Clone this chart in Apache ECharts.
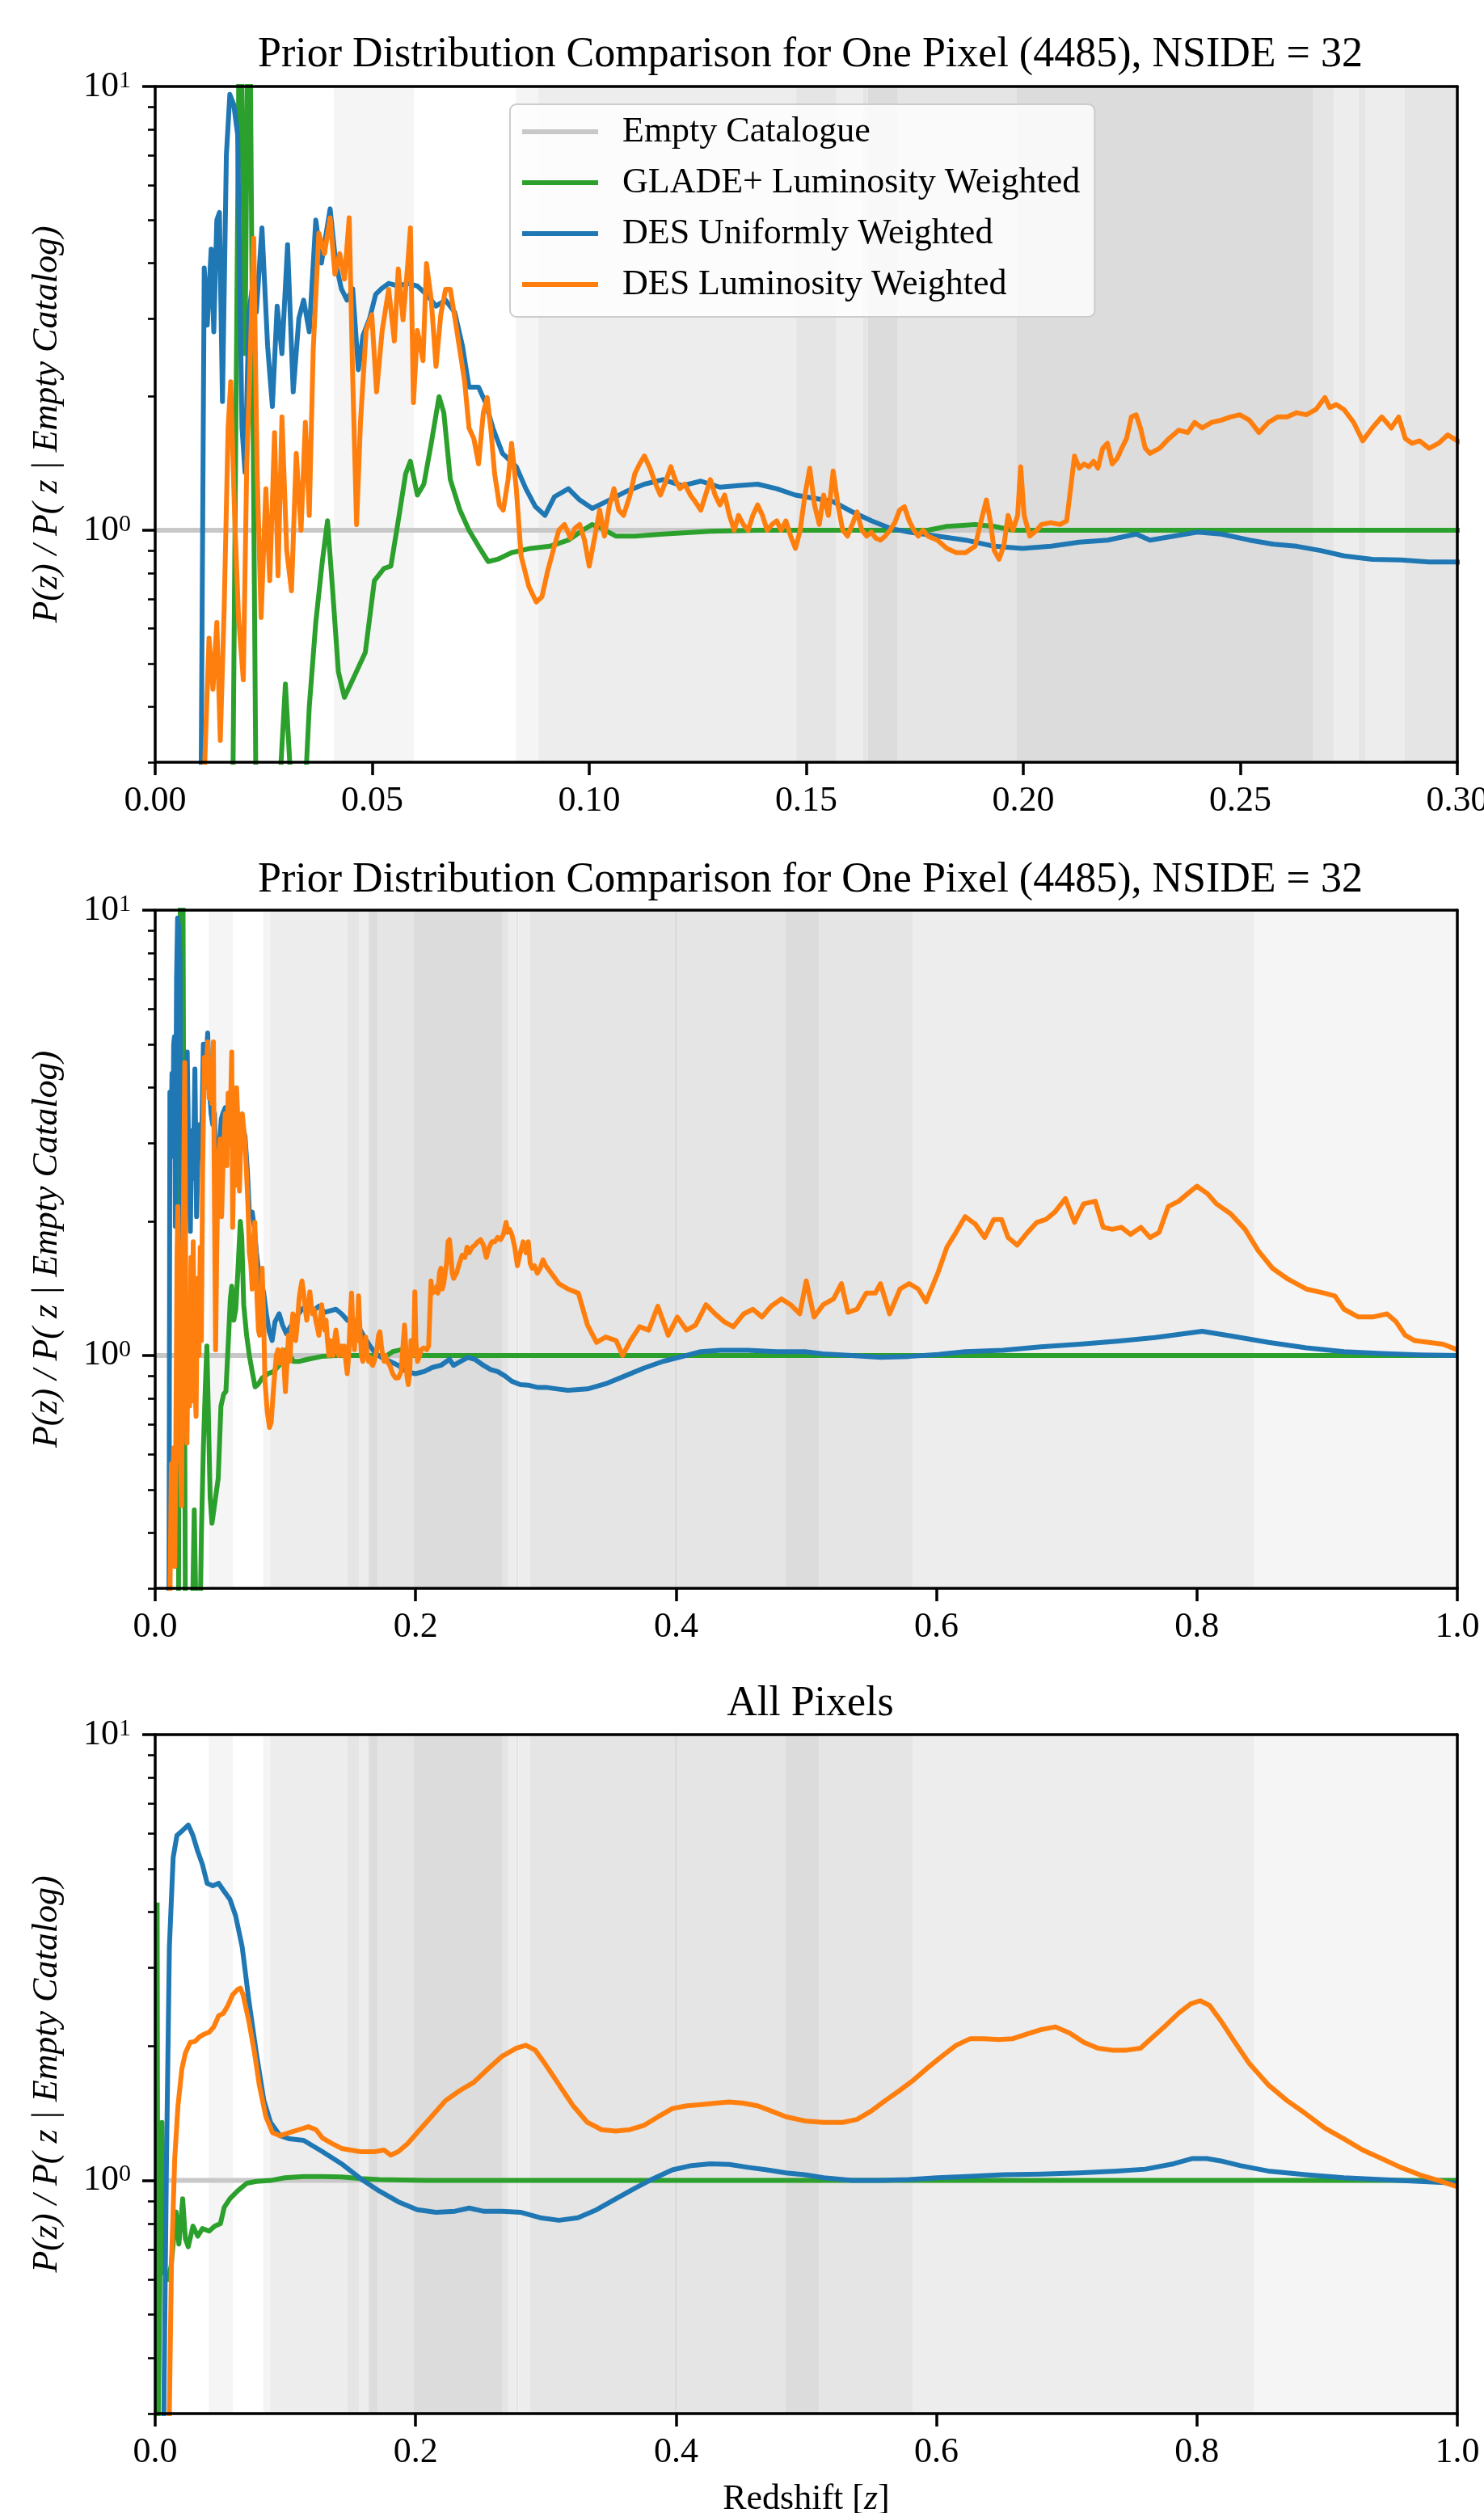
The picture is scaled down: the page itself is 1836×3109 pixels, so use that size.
<!DOCTYPE html>
<html>
<head>
<meta charset="utf-8">
<title>Prior Distribution Comparison</title>
<script src="https://cdn.jsdelivr.net/npm/echarts@6/dist/echarts.min.js"></script>
<style>
  html, body { margin: 0; padding: 0; background: #ffffff; }
  #chart { width: 1836px; height: 3109px; }
</style>
</head>
<body>
<div id="chart"></div>
<script>
// ---- Series names ----
const seriesNames = ['Empty Catalogue', 'GLADE+ Luminosity Weighted', 'DES Uniformly Weighted', 'DES Luminosity Weighted'];
const panelTitles = [
  'Prior Distribution Comparison for One Pixel (4485), NSIDE = 32',
  'Prior Distribution Comparison for One Pixel (4485), NSIDE = 32',
  'All Pixels'
];

// ---- Y tick values (log axis) ----
const yMajorTicks = [1, 10];
const yMinorTicks = [0.3, 0.4, 0.5, 0.6, 0.7, 0.8, 0.9, 2, 3, 4, 5, 6, 7, 8, 9];

// ---- Redshift bands behind the curves: [zStart, zEnd, shade level 1..4] ----
const bandStart = [0.0412, 0.0831, 0.0883, 0.1477, 0.1568, 0.1631, 0.1642, 0.1711, 0.1985, 0.2668, 0.2715, 0.2773, 0.2789, 0.2879, 0.3987, 0.4013, 0.4840, 0.5100, 0.5820, 0.8440];
const bandEnd   = [0.0596, 0.0883, 0.1477, 0.1568, 0.1631, 0.1642, 0.1711, 0.1985, 0.2668, 0.2715, 0.2773, 0.2789, 0.2879, 0.3987, 0.4013, 0.4840, 0.5100, 0.5820, 0.8440, 1.0000];
const bandLevel = [1, 1, 2, 3, 2, 3, 4, 3, 4, 3, 2, 3, 2, 3, 4, 3, 4, 3, 2, 1];

// ---- Reference line ----
const emptyCatalogue = [[0, 1], [1, 1]];

// ---- Pixel 4485: GLADE+ luminosity weighted ----
const pixelGlade = [[0.0178,0.2],[0.0193,12],[0.0199,12],[0.0207,2.5],[0.0213,12],[0.0219,12],[0.0233,0.2],[0.0280,0.2],[0.0300,0.45],[0.0320,0.2],[0.0340,0.2],[0.0355,0.4],[0.0370,0.62],[0.0385,0.85],[0.0397,1.05],[0.0408,0.75],[0.0422,0.48],[0.0436,0.42],[0.0455,0.46],[0.0484,0.53],[0.0505,0.77],[0.0527,0.82],[0.0543,0.83],[0.0560,1.05],[0.0577,1.34],[0.0588,1.43],[0.0604,1.20],[0.0619,1.27],[0.0636,1.57],[0.0654,2.0],[0.0665,1.84],[0.0680,1.30],[0.0702,1.11],[0.0723,1.0],[0.0745,0.92],[0.0767,0.85],[0.0789,0.86],[0.0821,0.89],[0.0865,0.91],[0.0909,0.92],[0.0952,0.95],[0.0985,1.0],[0.1007,1.03],[0.1028,1.01],[0.1061,0.97],[0.1105,0.97],[0.1170,0.98],[0.1279,0.995],[0.1388,1.0],[0.1606,1.0],[0.1780,1.0],[0.1824,1.02],[0.1889,1.03],[0.1933,1.02],[0.1976,1.0],[0.3,1.0],[1.0,1.0]];

// ---- Pixel 4485: DES uniformly weighted ----
const pixelDesUniform = [[0.0105,0.2],[0.0113,3.9],[0.0120,2.9],[0.0129,4.3],[0.0135,2.8],[0.0142,5.0],[0.0148,5.2],[0.0155,1.95],[0.0164,7.0],[0.0172,9.6],[0.0181,9.1],[0.0190,7.8],[0.0200,1.7],[0.0207,1.35],[0.0216,3.1],[0.0225,3.6],[0.0233,3.1],[0.0246,4.8],[0.0259,2.6],[0.0270,1.9],[0.0281,3.2],[0.0292,2.5],[0.0305,4.4],[0.0318,2.05],[0.0331,3.0],[0.0342,3.3],[0.0355,2.8],[0.0370,5.0],[0.0383,4.0],[0.0403,5.3],[0.0416,4.0],[0.0429,3.5],[0.0442,3.3],[0.0455,3.5],[0.0468,2.3],[0.0479,2.75],[0.0494,3.0],[0.0508,3.4],[0.0521,3.5],[0.0538,3.6],[0.0560,3.55],[0.0582,3.6],[0.0604,3.55],[0.0625,3.4],[0.0647,3.2],[0.0669,3.3],[0.0690,3.1],[0.0708,2.6],[0.0723,2.1],[0.0745,2.1],[0.0761,1.94],[0.0778,1.70],[0.0800,1.49],[0.0832,1.39],[0.0854,1.24],[0.0876,1.13],[0.0898,1.08],[0.0920,1.19],[0.0952,1.24],[0.0978,1.17],[0.1007,1.12],[0.1039,1.16],[0.1083,1.22],[0.1127,1.27],[0.1170,1.30],[0.1214,1.26],[0.1257,1.29],[0.1301,1.25],[0.1344,1.26],[0.1388,1.27],[0.1432,1.24],[0.1475,1.20],[0.1519,1.18],[0.1562,1.16],[0.1606,1.10],[0.1650,1.05],[0.1693,1.01],[0.1737,0.99],[0.1802,0.97],[0.1867,0.95],[0.1933,0.92],[0.1998,0.91],[0.2064,0.92],[0.2129,0.94],[0.2194,0.95],[0.2260,0.98],[0.2292,0.95],[0.2347,0.97],[0.2401,0.99],[0.2456,0.98],[0.2521,0.95],[0.2576,0.93],[0.2630,0.92],[0.2685,0.90],[0.2739,0.875],[0.2804,0.86],[0.2870,0.857],[0.2935,0.848],[0.3000,0.848],[0.310,0.84],[0.317,0.835],[0.332,0.841],[0.346,0.864],[0.361,0.90],[0.375,0.936],[0.390,0.97],[0.405,0.995],[0.419,1.02],[0.434,1.027],[0.455,1.027],[0.477,1.02],[0.499,1.02],[0.513,1.008],[0.535,1.0],[0.557,0.99],[0.579,0.995],[0.601,1.005],[0.622,1.02],[0.651,1.027],[0.680,1.046],[0.710,1.06],[0.739,1.077],[0.768,1.097],[0.789,1.118],[0.804,1.133],[0.826,1.106],[0.855,1.07],[0.884,1.04],[0.913,1.02],[0.942,1.01],[0.971,1.003],[1.0,1.0]];

// ---- Pixel 4485: DES luminosity weighted ----
const pixelDesLum = [[0.0108,0.2],[0.0124,0.571],[0.0133,0.438],[0.0142,0.62],[0.0150,0.336],[0.0159,0.67],[0.0168,1.70],[0.0174,2.16],[0.0183,1.08],[0.0192,0.636],[0.0203,0.46],[0.0211,1.41],[0.0218,2.28],[0.0227,4.55],[0.0235,1.34],[0.0244,0.636],[0.0255,1.24],[0.0264,0.77],[0.0275,1.66],[0.0283,0.79],[0.0292,1.80],[0.0303,0.90],[0.0314,0.73],[0.0325,1.49],[0.0336,1.0],[0.0346,1.75],[0.0355,1.08],[0.0364,2.54],[0.0377,4.67],[0.0390,4.2],[0.0403,5.06],[0.0414,3.78],[0.0425,4.2],[0.0436,3.68],[0.0447,5.06],[0.0455,2.22],[0.0464,1.03],[0.0473,1.75],[0.0486,2.82],[0.0499,3.06],[0.0510,2.05],[0.0523,2.82],[0.0538,3.49],[0.0551,2.67],[0.0560,3.88],[0.0571,2.98],[0.0582,3.99],[0.0588,4.8],[0.0595,1.94],[0.0604,2.82],[0.0617,2.41],[0.0625,3.99],[0.0636,3.31],[0.0647,2.34],[0.0658,3.06],[0.0669,3.49],[0.0680,3.49],[0.0691,2.98],[0.0702,2.54],[0.0713,2.16],[0.0723,1.70],[0.0734,1.61],[0.0745,1.41],[0.0756,1.84],[0.0765,1.99],[0.0774,1.66],[0.0782,1.34],[0.0793,1.14],[0.0802,1.11],[0.0813,1.30],[0.0821,1.57],[0.0832,1.24],[0.0843,0.875],[0.0861,0.746],[0.0878,0.689],[0.0891,0.708],[0.0904,0.808],[0.0920,0.923],[0.0930,1.0],[0.0943,1.03],[0.0957,0.96],[0.0967,1.01],[0.0978,1.03],[0.0989,0.95],[0.1000,0.83],[0.1013,0.97],[0.1024,1.11],[0.1035,0.97],[0.1046,1.13],[0.1057,1.24],[0.1068,1.11],[0.1079,1.08],[0.1094,1.20],[0.1105,1.34],[0.1116,1.41],[0.1127,1.47],[0.1140,1.38],[0.1153,1.27],[0.1164,1.20],[0.1174,1.27],[0.1188,1.39],[0.1198,1.30],[0.1209,1.24],[0.1220,1.27],[0.1233,1.20],[0.1244,1.16],[0.1257,1.11],[0.1268,1.20],[0.1279,1.30],[0.1290,1.20],[0.1301,1.14],[0.1312,1.20],[0.1323,1.08],[0.1334,1.0],[0.1344,1.08],[0.1355,1.03],[0.1366,1.0],[0.1377,1.08],[0.1388,1.14],[0.1399,1.08],[0.1410,1.0],[0.1421,1.03],[0.1432,1.05],[0.1442,1.0],[0.1453,1.05],[0.1464,0.97],[0.1475,0.91],[0.1486,1.0],[0.1497,1.20],[0.1508,1.38],[0.1519,1.14],[0.1530,1.03],[0.1540,1.20],[0.1551,1.08],[0.1562,1.36],[0.1573,1.14],[0.1584,1.0],[0.1595,0.97],[0.1606,1.03],[0.1617,1.10],[0.1628,1.0],[0.1639,0.97],[0.1650,0.99],[0.1660,0.96],[0.1671,0.95],[0.1682,0.97],[0.1693,1.0],[0.1704,1.04],[0.1715,1.11],[0.1726,1.13],[0.1737,1.05],[0.1748,1.0],[0.1758,0.97],[0.1769,1.0],[0.1780,0.97],[0.1802,0.95],[0.1824,0.91],[0.1846,0.89],[0.1867,0.89],[0.1889,0.92],[0.1906,1.08],[0.1915,1.17],[0.1924,1.05],[0.1933,0.90],[0.1944,0.86],[0.1955,0.92],[0.1965,1.08],[0.1976,1.0],[0.1987,1.08],[0.1994,1.39],[0.2002,1.08],[0.2015,0.97],[0.2031,1.0],[0.2042,1.03],[0.2063,1.04],[0.2085,1.03],[0.2100,1.05],[0.2109,1.24],[0.2118,1.47],[0.2129,1.38],[0.2140,1.41],[0.2151,1.39],[0.2162,1.43],[0.2172,1.38],[0.2183,1.53],[0.2194,1.57],[0.2205,1.41],[0.2216,1.45],[0.2227,1.53],[0.2238,1.61],[0.2249,1.80],[0.2260,1.82],[0.2270,1.70],[0.2281,1.53],[0.2292,1.49],[0.2314,1.53],[0.2336,1.61],[0.2358,1.68],[0.2379,1.66],[0.2395,1.75],[0.2412,1.70],[0.2434,1.75],[0.2456,1.77],[0.2477,1.80],[0.2499,1.82],[0.2521,1.77],[0.2543,1.66],[0.2565,1.75],[0.2586,1.80],[0.2608,1.80],[0.2630,1.84],[0.2652,1.82],[0.2674,1.87],[0.2695,1.99],[0.2706,1.89],[0.2721,1.92],[0.2739,1.87],[0.2761,1.75],[0.2782,1.59],[0.2804,1.70],[0.2826,1.80],[0.2848,1.70],[0.2865,1.80],[0.2880,1.61],[0.2896,1.57],[0.2913,1.59],[0.2935,1.53],[0.2957,1.57],[0.2978,1.64],[0.3000,1.59],[0.310,1.45],[0.317,1.41],[0.325,1.38],[0.332,1.17],[0.339,1.07],[0.346,1.10],[0.354,1.08],[0.359,1.0],[0.365,1.08],[0.372,1.16],[0.379,1.14],[0.386,1.29],[0.394,1.11],[0.401,1.22],[0.408,1.14],[0.415,1.17],[0.423,1.30],[0.430,1.24],[0.437,1.19],[0.444,1.16],[0.452,1.24],[0.459,1.27],[0.466,1.22],[0.473,1.29],[0.481,1.34],[0.488,1.30],[0.495,1.24],[0.500,1.47],[0.506,1.22],[0.513,1.30],[0.521,1.34],[0.527,1.45],[0.532,1.25],[0.539,1.27],[0.546,1.38],[0.553,1.38],[0.557,1.45],[0.564,1.24],[0.572,1.41],[0.579,1.45],[0.586,1.41],[0.592,1.32],[0.601,1.53],[0.608,1.75],[0.615,1.89],[0.622,2.05],[0.630,1.97],[0.637,1.84],[0.644,2.02],[0.650,2.02],[0.655,1.84],[0.662,1.77],[0.670,1.89],[0.677,1.99],[0.684,2.02],[0.691,2.10],[0.699,2.25],[0.706,1.99],[0.713,2.19],[0.722,2.22],[0.728,1.94],[0.735,1.92],[0.742,1.94],[0.749,1.87],[0.757,1.94],[0.764,1.84],[0.771,1.89],[0.778,2.16],[0.786,2.22],[0.793,2.31],[0.800,2.40],[0.808,2.31],[0.815,2.19],[0.826,2.08],[0.837,1.92],[0.847,1.72],[0.858,1.57],[0.869,1.49],[0.884,1.41],[0.898,1.38],[0.906,1.36],[0.913,1.27],[0.924,1.22],[0.935,1.22],[0.946,1.24],[0.953,1.19],[0.960,1.11],[0.967,1.08],[0.978,1.07],[0.989,1.06],[1.0,1.03]];

// ---- All pixels: GLADE+ luminosity weighted ----
const allGlade = [[0.0015,4.2],[0.0022,0.27],[0.0030,0.27],[0.0052,1.35],[0.0070,0.62],[0.0100,0.60],[0.0123,0.645],[0.0160,0.85],[0.0182,0.72],[0.0211,0.91],[0.0232,0.74],[0.0254,0.71],[0.0290,0.79],[0.0327,0.75],[0.0363,0.78],[0.0414,0.77],[0.0458,0.79],[0.0501,0.80],[0.0530,0.87],[0.0574,0.91],[0.0632,0.947],[0.0704,0.986],[0.0777,0.995],[0.0886,1.0],[0.0995,1.014],[0.1140,1.02],[0.1285,1.02],[0.1431,1.018],[0.1576,1.01],[0.1721,1.005],[0.2084,1.0],[0.3,1.0],[1.0,1.0]];

// ---- All pixels: DES uniformly weighted ----
const allDesUniform = [[0.0060,0.2],[0.0087,1.12],[0.0109,3.34],[0.0138,5.3],[0.0167,5.94],[0.0211,6.1],[0.0254,6.27],[0.0290,5.94],[0.0327,5.47],[0.0363,5.11],[0.0399,4.64],[0.0443,4.58],[0.0487,4.64],[0.0530,4.45],[0.0574,4.27],[0.0617,3.93],[0.0668,3.34],[0.0719,2.54],[0.0777,1.93],[0.0835,1.51],[0.0886,1.35],[0.0959,1.26],[0.1031,1.24],[0.1140,1.23],[0.1285,1.16],[0.1431,1.09],[0.1576,1.01],[0.1721,0.947],[0.1866,0.896],[0.2012,0.86],[0.2157,0.848],[0.2302,0.853],[0.2411,0.867],[0.2520,0.853],[0.2665,0.853],[0.2810,0.848],[0.2956,0.825],[0.3101,0.814],[0.3246,0.825],[0.3391,0.86],[0.3537,0.909],[0.3682,0.96],[0.3827,1.01],[0.3972,1.056],[0.4118,1.08],[0.4263,1.09],[0.4408,1.086],[0.4553,1.07],[0.4699,1.056],[0.4844,1.04],[0.4989,1.03],[0.5134,1.014],[0.5352,1.0],[0.5570,1.0],[0.5788,1.005],[0.6006,1.014],[0.6224,1.02],[0.6514,1.03],[0.6805,1.033],[0.7095,1.04],[0.7386,1.05],[0.7603,1.06],[0.7821,1.09],[0.7967,1.12],[0.8076,1.12],[0.8184,1.106],[0.8330,1.08],[0.8547,1.05],[0.8838,1.03],[0.9129,1.014],[0.9419,1.005],[0.9710,0.995],[1.0,0.986]];

// ---- All pixels: DES luminosity weighted ----
const allDesLum = [[0.0100,0.2],[0.0125,0.65],[0.0150,1.12],[0.0175,1.47],[0.0205,1.78],[0.0232,1.93],[0.0269,2.04],[0.0305,2.05],[0.0341,2.1],[0.0378,2.13],[0.0414,2.15],[0.0450,2.21],[0.0487,2.34],[0.0523,2.37],[0.0559,2.47],[0.0595,2.61],[0.0632,2.68],[0.0654,2.70],[0.0675,2.61],[0.0719,2.28],[0.0763,1.93],[0.0799,1.64],[0.0850,1.39],[0.0901,1.28],[0.0959,1.26],[0.1031,1.28],[0.1104,1.30],[0.1176,1.32],[0.1235,1.30],[0.1285,1.245],[0.1358,1.21],[0.1431,1.18],[0.1503,1.17],[0.1576,1.16],[0.1685,1.16],[0.1757,1.17],[0.1808,1.14],[0.1866,1.16],[0.1939,1.21],[0.2012,1.28],[0.2121,1.39],[0.2229,1.51],[0.2338,1.59],[0.2447,1.66],[0.2556,1.78],[0.2665,1.90],[0.2774,1.98],[0.2847,2.01],[0.2919,1.96],[0.2992,1.83],[0.3101,1.64],[0.3210,1.47],[0.3319,1.35],[0.3428,1.30],[0.3537,1.29],[0.3646,1.30],[0.3755,1.33],[0.3863,1.39],[0.3972,1.45],[0.4081,1.47],[0.4190,1.48],[0.4299,1.49],[0.4408,1.50],[0.4517,1.49],[0.4626,1.47],[0.4735,1.43],[0.4844,1.39],[0.4989,1.36],[0.5134,1.35],[0.5280,1.35],[0.5389,1.37],[0.5497,1.43],[0.5606,1.51],[0.5715,1.59],[0.5824,1.68],[0.5933,1.79],[0.6042,1.90],[0.6151,2.01],[0.6260,2.08],[0.6369,2.08],[0.6478,2.07],[0.6587,2.08],[0.6696,2.13],[0.6805,2.18],[0.6914,2.21],[0.7023,2.14],[0.7132,2.04],[0.7240,1.98],[0.7349,1.96],[0.7458,1.96],[0.7567,1.98],[0.7640,2.07],[0.7749,2.21],[0.7858,2.37],[0.7952,2.49],[0.8025,2.53],[0.8097,2.47],[0.8184,2.28],[0.8293,2.04],[0.8402,1.83],[0.8547,1.64],[0.8693,1.51],[0.8838,1.41],[0.8983,1.31],[0.9129,1.24],[0.9274,1.17],[0.9419,1.12],[0.9564,1.07],[0.9710,1.03],[0.9855,1.0],[1.0,0.968]];

// ---------------------------------------------------------------
const FONT = 'Liberation Serif';
const COLORS = { empty: '#c8c8c8', glade: '#2ca02c', uni: '#1f77b4', lum: '#ff7f0e' };
const SHADES = { 1: '#f5f5f5', 2: '#ededed', 3: '#e5e5e5', 4: '#dcdcdc' };
const Y_MIN = 0.3, Y_MAX = 10;
const LINE_W = 6;

const grids = [
  { left: 192, top: 107, width: 1611, height: 836 },
  { left: 192, top: 1126, width: 1611, height: 839 },
  { left: 192, top: 2146, width: 1611, height: 840 }
];
const xRanges = [
  { max: 0.3, interval: 0.05, digits: 2 },
  { max: 1.0, interval: 0.2, digits: 1 },
  { max: 1.0, interval: 0.2, digits: 1 }
];
const panelData = [
  [pixelGlade, pixelDesUniform, pixelDesLum],
  [pixelGlade, pixelDesUniform, pixelDesLum],
  [allGlade, allDesUniform, allDesLum]
];

const xAxes = [], yAxes = [], series = [], titles = [];

grids.forEach((g, gi) => {
  const xr = xRanges[gi];
  // bottom axis with ticks and labels
  xAxes.push({
    gridIndex: gi, type: 'value', position: 'bottom', min: 0, max: xr.max, interval: xr.interval, z: 10,
    axisLine: { show: true, onZero: false, lineStyle: { color: '#000', width: 3.5 } },
    axisTick: { show: true, inside: false, length: 16, lineStyle: { color: '#000', width: 3.5 } },
    axisLabel: { show: true, margin: 26, fontFamily: FONT, fontSize: 44, color: '#000',
      formatter: v => v.toFixed(xr.digits) },
    splitLine: { show: false },
    name: gi === 2 ? 'Redshift [{i|z}]' : '',
    nameLocation: 'middle', nameGap: 84,
    nameTextStyle: { fontFamily: FONT, fontSize: 44, color: '#000', verticalAlign: 'top',
      rich: { i: { fontFamily: FONT, fontSize: 44, fontStyle: 'italic', color: '#000' } } }
  });
  // top spine
  xAxes.push({
    gridIndex: gi, type: 'value', position: 'top', min: 0, max: xr.max, z: 10,
    axisLine: { show: true, onZero: false, lineStyle: { color: '#000', width: 3.5 } },
    axisTick: { show: false }, axisLabel: { show: false }, splitLine: { show: false }
  });
  // left axis: decade labels and major ticks
  yAxes.push({
    gridIndex: gi, type: 'log', logBase: 10, position: 'left', min: Y_MIN, max: Y_MAX, z: 10,
    axisLine: { show: true, onZero: false, lineStyle: { color: '#000', width: 3.5 } },
    axisTick: { show: true, inside: false, length: 16, customValues: yMajorTicks, lineStyle: { color: '#000', width: 3.5 } },
    axisLabel: {
      show: true, margin: 30, customValues: yMajorTicks,
      formatter: v => '{b|10}{s|' + Math.round(Math.log10(v)) + '}',
      rich: {
        b: { fontFamily: FONT, fontSize: 44, lineHeight: 44, color: '#000' },
        s: { fontFamily: FONT, fontSize: 30, lineHeight: 30, color: '#000', verticalAlign: 'top' }
      }
    },
    splitLine: { show: false },
    name: 'P(z) / P( z | Empty Catalog)', nameLocation: 'middle', nameRotate: 90, nameGap: 112,
    nameTextStyle: { fontFamily: FONT, fontSize: 44, fontStyle: 'italic', color: '#000' }
  });
  // left axis: minor ticks
  yAxes.push({
    gridIndex: gi, type: 'log', logBase: 10, position: 'left', min: Y_MIN, max: Y_MAX, z: 10,
    axisLine: { show: false, onZero: false },
    axisTick: { show: true, inside: false, length: 9, customValues: yMinorTicks, lineStyle: { color: '#000', width: 2.6 } },
    axisLabel: { show: false }, splitLine: { show: false }
  });
  // right spine
  yAxes.push({
    gridIndex: gi, type: 'log', logBase: 10, position: 'right', min: Y_MIN, max: Y_MAX, z: 10,
    axisLine: { show: true, onZero: false, lineStyle: { color: '#000', width: 3.5 } },
    axisTick: { show: false }, axisLabel: { show: false }, splitLine: { show: false }
  });

  const xi = gi * 2, yi = gi * 3;

  // shaded redshift bands
  series.push({
    type: 'line', xAxisIndex: xi, yAxisIndex: yi, data: [[0, 1]], symbol: 'none',
    lineStyle: { opacity: 0 }, silent: true, z: 1, legendHoverLink: false,
    markArea: {
      silent: true, label: { show: false },
      data: bandStart.map((s, k) => [
        { xAxis: s, itemStyle: { color: SHADES[bandLevel[k]], opacity: 1 } },
        { xAxis: Math.min(bandEnd[k], xr.max) }
      ]).filter(p => p[0].xAxis < xr.max)
    }
  });

  const common = (name, color, data, z) => ({
    type: 'line', name, xAxisIndex: xi, yAxisIndex: yi, data, color,
    symbol: 'none', showSymbol: false, smooth: false, clip: true, z,
    lineStyle: { color, width: LINE_W, join: 'round' }
  });
  const [gl, uni, lum] = panelData[gi];
  series.push(common(seriesNames[0], COLORS.empty, emptyCatalogue, 2));
  series.push(common(seriesNames[1], COLORS.glade, gl, 3));
  series.push(common(seriesNames[2], COLORS.uni, uni, 4));
  series.push(common(seriesNames[3], COLORS.lum, lum, 5));

  titles.push({
    text: panelTitles[gi], left: g.left + g.width / 2, textAlign: 'center',
    top: [37, 1058, 2077][gi],
    textStyle: { fontFamily: FONT, fontSize: 52, fontWeight: 'normal', color: '#000' }
  });
});

const chart = echarts.init(document.getElementById('chart'), null, { renderer: 'canvas' });
chart.setOption({
  animation: false,
  backgroundColor: '#ffffff',
  title: titles,
  // keep each plot box exactly where it is placed, even when an edge tick label runs past the canvas
  grid: grids.map(g => Object.assign({ show: false, containLabel: false, outerBoundsMode: 'none' }, g)),
  xAxis: xAxes,
  yAxis: yAxes,
  legend: {
    show: true, orient: 'vertical', left: 631, top: 129,
    data: seriesNames.map(n => ({ name: n, icon: 'rect' })),
    itemWidth: 94, itemHeight: 6, itemGap: 13,
    padding: [9, 18, 15, 15],
    backgroundColor: 'rgba(255,255,255,0.8)',
    borderColor: '#cccccc', borderWidth: 2, borderRadius: 8,
    selectedMode: false, z: 20,
    textStyle: { fontFamily: FONT, fontSize: 44, lineHeight: 50, color: '#000', padding: [0, 0, 0, 25] }
  },
  series
});
</script>
</body>
</html>
